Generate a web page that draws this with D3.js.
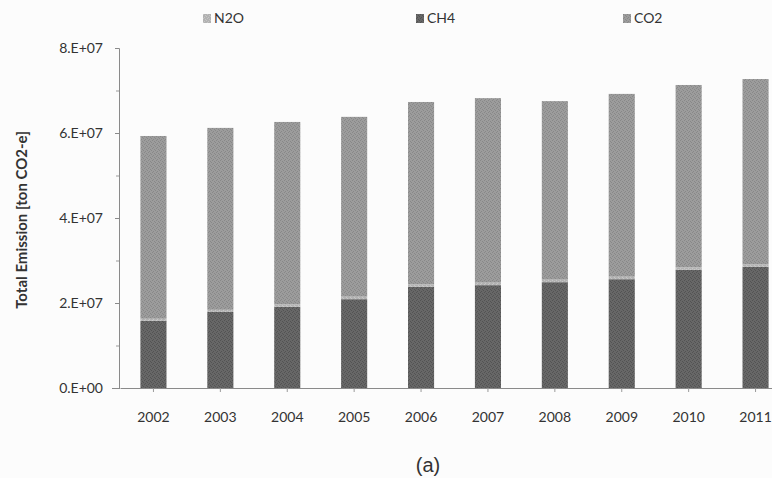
<!DOCTYPE html>
<html>
<head>
<meta charset="utf-8">
<script src="https://cdn.jsdelivr.net/npm/d3@7.9.0/dist/d3.min.js"></script>
<style>
  body { margin: 0; background: #fcfcfc; }
  svg { display: block; }
  text { fill: #333; }
</style>
</head>
<body>
<div id="chart"></div>
<script>
// values
const years = ['2002', '2003', '2004', '2005', '2006', '2007', '2008', '2009', '2010', '2011'];
const ch4 = [1.58e7, 1.79e7, 1.91e7, 2.09e7, 2.38e7, 2.42e7, 2.49e7, 2.56e7, 2.78e7, 2.85e7];
const n2o = [0.05e7, 0.05e7, 0.06e7, 0.06e7, 0.06e7, 0.06e7, 0.06e7, 0.06e7, 0.06e7, 0.06e7];
const co2 = [4.30e7, 4.28e7, 4.29e7, 4.23e7, 4.29e7, 4.34e7, 4.20e7, 4.30e7, 4.29e7, 4.36e7];
const legendNames = ['N2O', 'CH4', 'CO2'];
const yTicks = [0, 2e7, 4e7, 6e7, 8e7];
const yMinorTicks = [1e7, 3e7, 5e7, 7e7];

const width = 772;
const height = 478;

const svg = d3.select('#chart')
  .append('svg')
  .attr('width', width)
  .attr('height', height);

const defs = svg.append('defs');
// stippled fills, like the printed figure
const dots = [[0, 0], [2, 1], [1, 3], [3, 2]];
function stipple(id, base, alt) {
  const p = defs.append('pattern')
    .attr('id', id)
    .attr('width', 4).attr('height', 4)
    .attr('patternUnits', 'userSpaceOnUse');
  p.append('rect').attr('width', 4).attr('height', 4).attr('fill', base);
  p.selectAll('.dot')
    .data(dots)
    .join('rect')
    .attr('x', (d) => d[0]).attr('y', (d) => d[1])
    .attr('width', 1).attr('height', 1)
    .attr('fill', alt);
}
stipple('fillCH4', '#676767', '#535353');
stipple('fillN2O', '#b2b2b2', '#c6c6c6');
stipple('fillCO2', '#9c9c9c', '#888888');

const fills = { CH4: 'url(#fillCH4)', N2O: 'url(#fillN2O)', CO2: 'url(#fillCO2)' };

const rows = years.map((y, i) => ({ year: y, CH4: ch4[i], N2O: n2o[i], CO2: co2[i] }));
const stack = d3.stack().keys(['CH4', 'N2O', 'CO2'])(rows);

const xScale = d3.scaleBand()
  .domain(years)
  .range([120, 789])
  .paddingInner(0.61)
  .paddingOuter(0.305);

const yScale = d3.scaleLinear()
  .domain([0, 8e7])
  .range([388, 48]);

// bars
svg.append('g')
  .selectAll('g')
  .data(stack)
  .join('g')
  .attr('fill', (d) => fills[d.key])
  .selectAll('rect')
  .data((d) => d)
  .join('rect')
  .attr('x', (d) => xScale(d.data.year))
  .attr('y', (d) => yScale(d[1]))
  .attr('width', xScale.bandwidth())
  .attr('height', (d) => yScale(d[0]) - yScale(d[1]));

// y axis
const fmt = (d) => d === 0 ? '0.E+00' : (d / 1e7).toFixed(0) + '.E+07';
const yAxis = svg.append('g')
  .attr('transform', 'translate(119,0)')
  .call(d3.axisLeft(yScale).tickValues(yTicks).tickFormat(fmt).tickSize(4).tickPadding(12));
yAxis.selectAll('text')
  .style('font-family', 'Lato, "Open Sans", sans-serif')
  .style('font-size', '14px')
  .attr('fill', '#333');
yAxis.select('.domain').attr('stroke', '#8a8a8a');
yAxis.selectAll('.tick line').attr('stroke', '#8a8a8a');

svg.append('g')
  .attr('transform', 'translate(119,0)')
  .call(d3.axisLeft(yScale).tickValues(yMinorTicks).tickFormat('').tickSize(3))
  .call((g) => g.select('.domain').remove())
  .selectAll('.tick line').attr('stroke', '#9a9a9a');

// x axis
const xAxis = svg.append('g')
  .attr('transform', 'translate(0,388)')
  .call(d3.axisBottom(xScale).tickSize(4).tickSizeOuter(0).tickPadding(20));
xAxis.select('.domain').attr('stroke', '#8a8a8a');
xAxis.selectAll('.tick line').attr('stroke', '#9a9a9a');
xAxis.selectAll('text')
  .style('font-family', 'Lato, "Open Sans", sans-serif')
  .style('font-size', '14px')
  .attr('fill', '#333');
// axis line continues to the left of the y axis
svg.append('line')
  .attr('x1', 112).attr('x2', 120)
  .attr('y1', 388.5).attr('y2', 388.5)
  .attr('stroke', '#8a8a8a');

// y title
svg.append('text')
  .attr('transform', 'translate(27,220) rotate(-90)')
  .attr('text-anchor', 'middle')
  .style('font-family', 'Lato, "Open Sans", sans-serif')
  .style('font-size', '15px')
  .style('font-weight', 'bold')
  .text('Total Emission [ton CO2-e]');

// legend
const legendX = [203, 416, 623];
const legend = svg.append('g')
  .selectAll('g')
  .data(legendNames)
  .join('g')
  .attr('transform', (d, i) => `translate(${legendX[i]},14)`);
legend.append('rect')
  .attr('width', 8).attr('height', 9)
  .attr('fill', (d) => fills[d]);
legend.append('text')
  .attr('x', 11).attr('y', 9)
  .style('font-family', 'Lato, "Open Sans", sans-serif')
  .style('font-size', '14px')
  .text((d) => d);

// caption
svg.append('text')
  .attr('x', 428).attr('y', 472)
  .attr('text-anchor', 'middle')
  .style('font-family', '"Liberation Sans", Arial, sans-serif')
  .style('font-size', '20px')
  .text('(a)');
</script>
</body>
</html>
